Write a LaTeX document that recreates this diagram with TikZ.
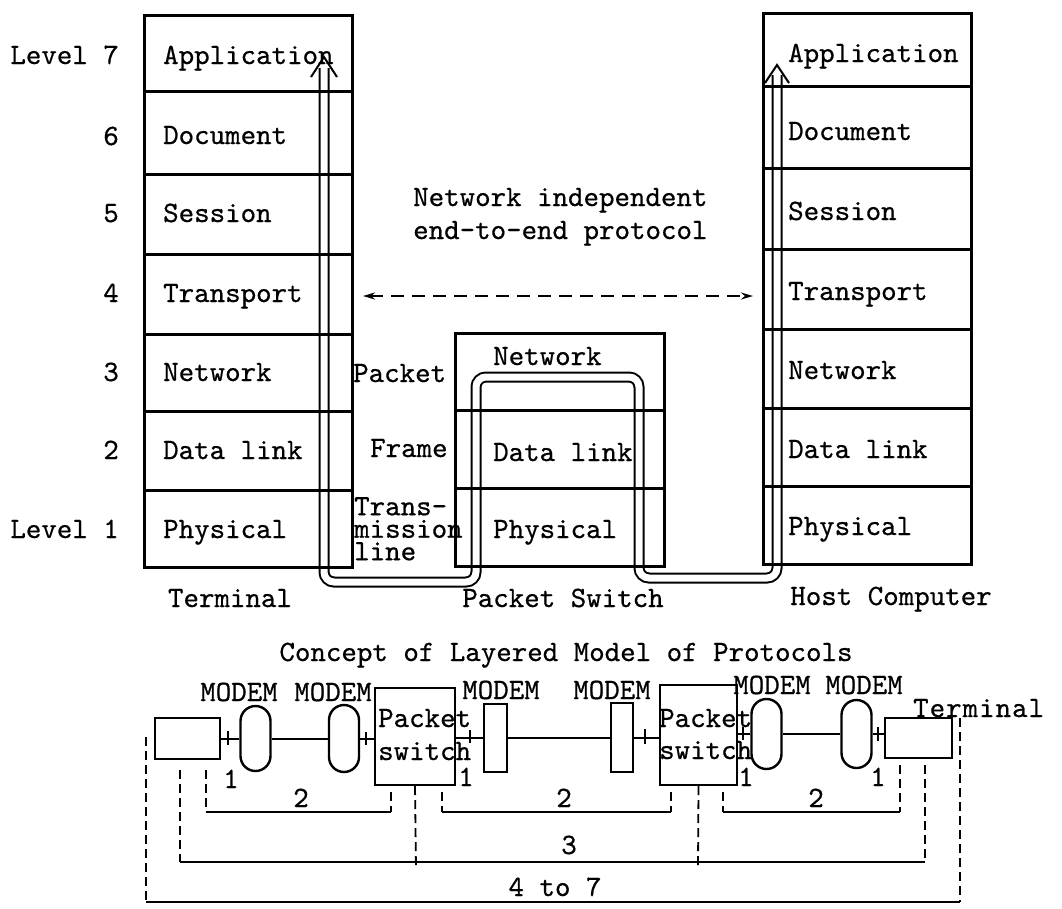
\documentclass[tikz,border=0pt]{standalone}
\usepackage{fontspec}
\usetikzlibrary{arrows.meta}
\newfontfamily\typewface{lmmono10-regular.otf}[FakeBold=0.6]
\newcommand\typew{\typewface\fontsize{29.5}{33}\selectfont}
\begin{document}
\begin{tikzpicture}[x=1pt,y=-1pt,
  txt/.style={inner sep=0pt, font=\typew, text height=18pt, text depth=0pt},
  cell/.style={draw, line width=2.6pt, inner sep=0pt, anchor=north west},
  dbl/.style={double, double distance=7pt, line width=2pt, rounded corners=10pt},
  tipline/.style={line width=2pt},
  dev/.style={draw, line width=2.4pt, inner sep=0pt},
  modem/.style={dev, minimum width=30pt, rounded corners=15pt},
  link/.style={line width=2pt},
  tick/.style={line width=2pt},
  brk/.style={line width=2pt},
  dsh/.style={line width=1.8pt, dash pattern=on 9pt off 5pt}
]
\useasboundingbox (0,0) rectangle (1062,908);

% ---------- data path through the layers (drawn first, boxes go on top)
\coordinate (aL) at (324,68);
\coordinate (aR) at (777,75);
\draw[dbl] (aL) -- (324,582) -- (476,582) -- (476,377) -- (639,377)
           -- (639,578) -- (777,578) -- (aR);
\draw[tipline] (311,77) -- (324,57) -- (337,77);
\draw[tipline] (765,83) -- (777,65) -- (789,83);

% ---------- terminal stack
\node[cell, minimum width=208pt, minimum height=76pt] (L7) at (143,14) {};
\node[cell, minimum width=208pt, minimum height=83pt] (L6) at (143,90) {};
\node[cell, minimum width=208pt, minimum height=80pt] (L5) at (143,173) {};
\node[cell, minimum width=208pt, minimum height=80pt] (L4) at (143,253) {};
\node[cell, minimum width=208pt, minimum height=77pt] (L3) at (143,333) {};
\node[cell, minimum width=208pt, minimum height=79pt] (L2) at (143,410) {};
\node[cell, minimum width=208pt, minimum height=77pt] (L1) at (143,489) {};

\node[txt, anchor=west] (tL7) at (163,55) {Application};
\node[txt, anchor=west] (tL6) at (163,135) {Document};
\node[txt, anchor=west] (tL5) at (163,213) {Session};
\node[txt, anchor=west] (tL4) at (163,293) {Transport};
\node[txt, anchor=west] (tL3) at (163,372) {Network};
\node[txt, anchor=west] (tL2) at (163,450) {Data link};
\node[txt, anchor=west] (tL1) at (163,529) {Physical};

% level numbers
\node[txt, anchor=east] (n7) at (119,55) {Level 7};
\node[txt, anchor=east] (n6) at (119,136) {6};
\node[txt, anchor=east] (n5) at (119,213) {5};
\node[txt, anchor=east] (n4) at (119,293) {4};
\node[txt, anchor=east] (n3) at (119,372) {3};
\node[txt, anchor=east] (n2) at (119,450) {2};
\node[txt, anchor=east] (n1) at (119,529) {Level 1};

% ---------- packet switch stack
\node[cell, minimum width=209pt, minimum height=77pt] (P3) at (454,332) {};
\node[cell, minimum width=209pt, minimum height=78pt] (P2) at (454,409) {};
\node[cell, minimum width=209pt, minimum height=78pt] (P1) at (454,487) {};
\node[txt, anchor=west] (tP3) at (493,356) {Network};
\node[txt, anchor=west] (tP2) at (493,452) {Data link};
\node[txt, anchor=west] (tP1) at (493,529) {Physical};

% unit names between terminal and switch
\node[txt, anchor=west] (uPk) at (353,373) {Packet};
\node[txt, anchor=west] (uFr) at (370,448) {Frame};
\node[anchor=north west, inner sep=0pt, align=left,
      font=\typewface\fontsize{29.5}{22.5}\selectfont] (uTl) at (354,497)
      {Trans-\\mission\\line};

% ---------- host stack
\node[cell, minimum width=208pt, minimum height=73pt] (R7) at (762,12) {};
\node[cell, minimum width=208pt, minimum height=82pt] (R6) at (762,85) {};
\node[cell, minimum width=208pt, minimum height=81pt] (R5) at (762,167) {};
\node[cell, minimum width=208pt, minimum height=80pt] (R4) at (762,248) {};
\node[cell, minimum width=208pt, minimum height=79pt] (R3) at (762,328) {};
\node[cell, minimum width=208pt, minimum height=78pt] (R2) at (762,407) {};
\node[cell, minimum width=208pt, minimum height=78pt] (R1) at (762,485) {};

\node[txt, anchor=west] (tR7) at (788,53) {Application};
\node[txt, anchor=west] (tR6) at (788,131) {Document};
\node[txt, anchor=west] (tR5) at (788,211) {Session};
\node[txt, anchor=west] (tR4) at (788,291) {Transport};
\node[txt, anchor=west] (tR3) at (788,370) {Network};
\node[txt, anchor=west] (tR2) at (788,449) {Data link};
\node[txt, anchor=west] (tR1) at (788,526) {Physical};

% ---------- end-to-end protocol
\node[txt, anchor=west] (e1) at (413,197) {Network independent};
\node[txt, anchor=west] (e2) at (413,230) {end-to-end protocol};
\coordinate (pL) at (363,296);
\coordinate (pR) at (753,296);
\draw[line width=2pt, dash pattern=on 13pt off 8pt,
      {Stealth[length=12pt,width=7pt]}-{Stealth[length=12pt,width=7pt]}] (pL) -- (pR);

% captions under the stacks
\node[txt] (cT) at (230,598) {Terminal};
\node[txt] (cP) at (563,598) {Packet Switch};
\node[txt] (cH) at (891,596) {Host Computer};

% ---------- network configuration
\node[txt] (title) at (566,652) {Concept of Layered Model of Protocols};

\node[dev, minimum width=65pt, minimum height=41pt] (tL) at (187.5,738.5) {};
\node[modem, minimum height=65pt] (m1) at (255.5,738.5) {};
\node[modem, minimum height=67pt] (m2) at (344,738.5) {};
\node[dev, minimum width=80pt, minimum height=97pt] (s1) at (415,736.5) {};
\node[dev, minimum width=23pt, minimum height=68pt] (r3) at (495.5,738) {};
\node[dev, minimum width=22pt, minimum height=69pt] (r4) at (622,737.5) {};
\node[dev, minimum width=77pt, minimum height=100pt] (s2) at (698.5,735) {};
\node[modem, minimum height=70pt] (m5) at (766.5,734) {};
\node[modem, minimum height=68pt] (m6) at (856.5,734) {};
\node[dev, minimum width=67pt, minimum height=40pt] (tR) at (918.5,738) {};

\node[txt, anchor=west] (s1a) at (378,718) {Packet};
\node[txt, anchor=west] (s1b) at (378,751) {switch};
\node[txt, anchor=west] (s2a) at (659,718) {Packet};
\node[txt, anchor=west] (s2b) at (659,750) {switch};

\node[txt] (ml1) at (239,692) {MODEM};
\node[txt] (ml2) at (333,692) {MODEM};
\node[txt] (ml3) at (501,690) {MODEM};
\node[txt] (ml4) at (612,690) {MODEM};
\node[txt] (ml5) at (772,685) {MODEM};
\node[txt] (ml6) at (864,685) {MODEM};
\node[txt, anchor=west] (tRl) at (913,708) {T\kern1pt e\kern1pt r\kern1pt m\kern1pt i\kern1pt n\kern1pt a\kern1pt l};

% links
\draw[link] (tL.east) -- (tL.east -| m1.west);
\draw[link] (m1.east) -- (m1.east -| m2.west);
\draw[link] (m2.east) -- (m2.east -| s1.west);
\draw[link] (r3.west) -- (r3.west -| s1.east);
\draw[link] (r3.east) -- (r3.east -| r4.west);
\draw[link] (r4.east) -- (r4.east -| s2.west);
\draw[link] (m5.west) -- (m5.west -| s2.east);
\draw[link] (m5.east) -- (m5.east -| m6.west);
\draw[link] (m6.east) -- (m6.east -| tR.west);

% physical interface marks
\draw[tick] (228,731) -- (228,745);
\draw[tick] (366,732) -- (366,745);
\draw[tick] (470,730) -- (470,743);
\draw[tick] (645,729) -- (645,744);
\draw[tick] (743,727) -- (743,740);
\draw[tick] (878,727) -- (878,741);
\node[txt] (o1) at (231,779) {1};
\node[txt] (o2) at (466,777) {1};
\node[txt] (o3) at (746,777) {1};
\node[txt] (o4) at (878,777) {1};

% level 2 spans
\draw[dsh] (206,770) -- (206,812);
\draw[dsh] (391,792) -- (391,812);
\draw[brk] (206,812) -- (391,812);
\draw[dsh] (442,792) -- (442,812);
\draw[dsh] (671,792) -- (671,812);
\draw[brk] (442,812) -- (671,812);
\draw[dsh] (723,792) -- (723,812);
\draw[dsh] (900,765) -- (900,812);
\draw[brk] (723,812) -- (900,812);
\node[txt] (c21) at (301,798) {2};
\node[txt] (c22) at (564,798) {2};
\node[txt] (c23) at (816,798) {2};

% level 3 span
\draw[dsh] (180,770) -- (180,862);
\draw[dsh] (925,765) -- (925,862);
\draw[brk] (180,862) -- (925,862);
\draw[dsh] (s1.south) -- (416,870);
\draw[dsh] (s2.south) -- (698,868);
\node[txt] (c3) at (569,845) {3};

% levels 4 to 7 span
\draw[dsh] (146,737) -- (146,902);
\draw[dsh] (960,718) -- (960,902);
\draw[brk] (146,902) -- (960,902);
\node[txt] (c47) at (555,887) {4 to 7};
\end{tikzpicture}
\end{document}
